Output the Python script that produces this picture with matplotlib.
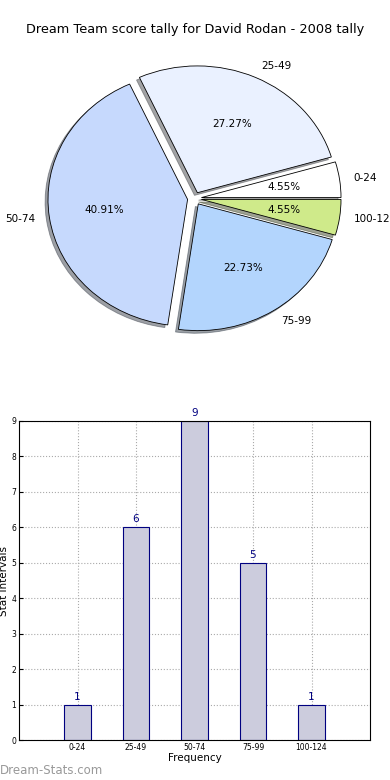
import matplotlib
matplotlib.use("Agg")
import matplotlib.pyplot as plt

categories = ["0-24", "25-49", "50-74", "75-99", "100-124"]
counts = [1, 6, 9, 5, 1]
pie_colors = ["#ffffff", "#eaf1ff", "#c6d9fd", "#b3d5fd", "#cfea8a"]
title = "Dream Team score tally for David Rodan - 2008 tally"

fig = plt.figure(figsize=(3.9, 7.8), dpi=100)

# --- pie (старый стиль, не круглый, а чуть эллиптический) ---
ax1 = fig.add_axes([20 / 390, 1 - 357 / 780, 349 / 390, 317 / 780])
ax1.pie(counts, labels=categories, colors=pie_colors, explode=[0.05] * len(counts),
        autopct="%.2f%%", startangle=0,
        shadow={"ox": -0.015, "oy": -0.015},
        wedgeprops={"edgecolor": "black", "linewidth": 0.6},
        textprops={"fontsize": 7.5})
ax1.set_aspect("auto")
ax1.set_xlim(-1.25, 1.25)
ax1.set_ylim(-1.25, 1.25)
fig.text(0.5, 1 - 30 / 780, title, ha="center", va="center", fontsize=9.3)

# --- bars ---
ax2 = fig.add_axes([19 / 390, 40 / 780, 351 / 390, 319 / 780])
xs = range(len(categories))
ax2.bar(xs, counts, width=0.45, color="#ccccdd", edgecolor="navy", linewidth=0.8, zorder=2)
for x, v in zip(xs, counts):
    ax2.text(x, v + 0.08, str(v), ha="center", va="bottom", color="navy", fontsize=7.5)
ax2.set_xlim(-1, 5)
ax2.set_ylim(0, 9)
ax2.set_xticks(list(xs))
ax2.set_xticklabels(categories)
ax2.set_yticks(range(10))
ax2.tick_params(labelsize=5.5, direction="in", length=3, pad=2)
ax2.grid(True, linestyle=":", color="#aaaaaa", linewidth=0.8, zorder=0)
ax2.set_axisbelow(True)
ax2.set_xlabel("Frequency", fontsize=7.5, labelpad=1)
ax2.set_ylabel("Stat intervals", fontsize=7.5, labelpad=2)

fig.text(0, 10 / 780, "Dream-Stats.com", color="#999999", fontsize=8.5,
         ha="left", va="center")

fig.savefig("out.png", dpi=100)
